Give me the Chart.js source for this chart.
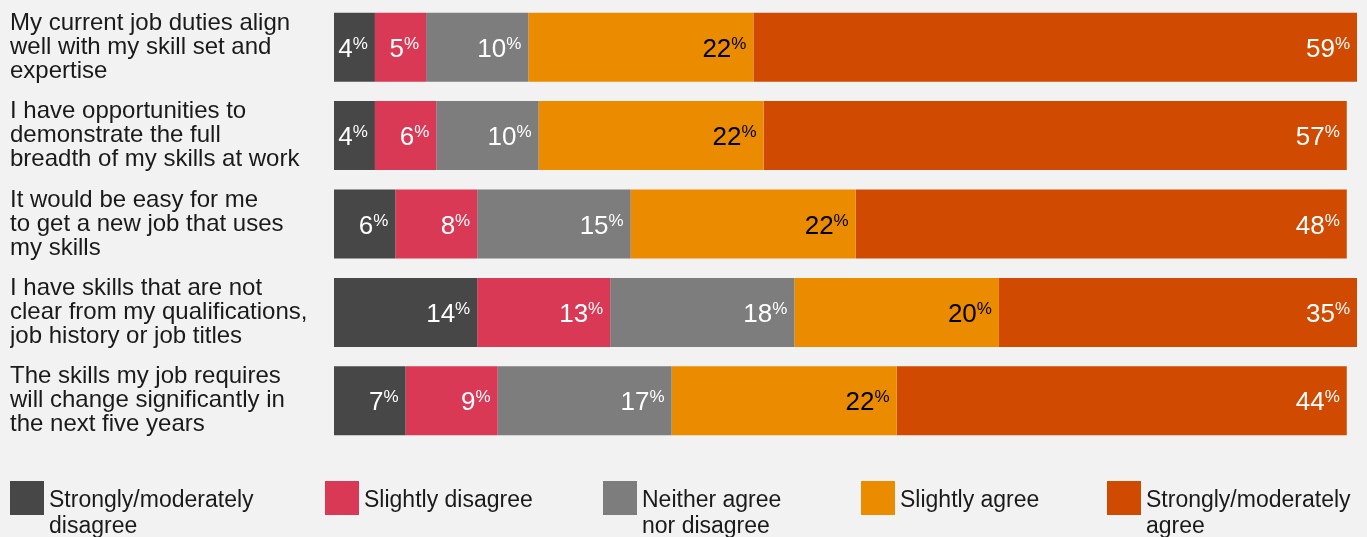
<!DOCTYPE html>
<html>
<head>
<meta charset="utf-8">
<script src="https://cdn.jsdelivr.net/npm/chart.js@4/dist/chart.umd.min.js"></script>
<style>
  html, body { margin: 0; padding: 0; background: #f2f2f2; }
  #wrap { position: relative; width: 1367px; height: 537px; }
</style>
</head>
<body>
<div id="wrap"><canvas id="skills"></canvas></div>
<script>
const statements = [
    ['My current job duties align', 'well with my skill set and', 'expertise'],
    ['I have opportunities to', 'demonstrate the full', 'breadth of my skills at work'],
    ['It would be easy for me', 'to get a new job that uses', 'my skills'],
    ['I have skills that are not', 'clear from my qualifications,', 'job history or job titles'],
    ['The skills my job requires', 'will change significantly in', 'the next five years']
];

const strongDisagree = [4, 4, 6, 14, 7];
const slightDisagree = [5, 6, 8, 13, 9];
const neitherNor = [10, 10, 15, 18, 17];
const slightAgree = [22, 22, 22, 20, 22];
const strongAgree = [59, 57, 48, 35, 44];

const COLORS = {
    darkGrey: '#474747',
    rose: '#d93954',
    grey: '#7d7d7d',
    orange: '#eb8c00',
    tangerine: '#d04a02',
    text: '#1a1a1a'
};

const FONT = '"Helvetica Neue", Helvetica, "Liberation Sans", Arial, sans-serif';

// value + small raised "%" drawn inside the right end of each segment
const segmentLabels = {
    id: 'segmentLabels',
    afterDatasetsDraw(chart) {
        const ctx = chart.ctx;
        ctx.save();
        chart.data.datasets.forEach((ds, di) => {
            const meta = chart.getDatasetMeta(di);
            meta.data.forEach((bar, i) => {
                const v = ds.data[i];
                ctx.fillStyle = ds.valueColor;
                ctx.textBaseline = 'alphabetic';
                ctx.textAlign = 'right';
                ctx.font = '17px ' + FONT;
                const pctW = ctx.measureText('%').width;
                const right = bar.x - 7;
                ctx.fillText('%', right, bar.y + 1.5);
                ctx.font = '26px ' + FONT;
                ctx.fillText(String(v), right - pctW, bar.y + 9.5);
            });
        });
        ctx.restore();
    }
};

// legend row under the bars, labels may wrap onto two lines
const boxLegend = {
    id: 'boxLegend',
    afterDraw(chart, args, opts) {
        const ctx = chart.ctx;
        ctx.save();
        ctx.font = '23px ' + FONT;
        ctx.textAlign = 'left';
        ctx.textBaseline = 'alphabetic';
        chart.data.datasets.forEach((ds, i) => {
            const x = opts.positions[i];
            ctx.fillStyle = ds.backgroundColor;
            ctx.fillRect(x, opts.top, 34, 34);
            ctx.fillStyle = COLORS.text;
            ds.label.forEach((line, li) => {
                ctx.fillText(line, x + 39, opts.top + 26 + li * 25.5);
            });
        });
        ctx.restore();
    }
};

new Chart(document.getElementById('skills'), {
    type: 'bar',
    data: {
        labels: statements,
        datasets: [
            { label: ['Strongly/moderately', 'disagree'], data: strongDisagree, backgroundColor: COLORS.darkGrey, valueColor: '#ffffff' },
            { label: ['Slightly disagree'], data: slightDisagree, backgroundColor: COLORS.rose, valueColor: '#ffffff' },
            { label: ['Neither agree', 'nor disagree'], data: neitherNor, backgroundColor: COLORS.grey, valueColor: '#ffffff' },
            { label: ['Slightly agree'], data: slightAgree, backgroundColor: COLORS.orange, valueColor: '#000000' },
            { label: ['Strongly/moderately', 'agree'], data: strongAgree, backgroundColor: COLORS.tangerine, valueColor: '#ffffff' }
        ]
    },
    options: {
        indexAxis: 'y',
        responsive: true,
        maintainAspectRatio: false,
        animation: false,
        datasets: {
            bar: {
                barPercentage: 1,
                categoryPercentage: 0.78,
                borderWidth: 0
            }
        },
        layout: {
            padding: { left: 10, right: 10, top: 3, bottom: 92 }
        },
        plugins: {
            legend: { display: false },
            tooltip: { enabled: false },
            boxLegend: {
                positions: [10, 325, 603, 861, 1107],
                top: 481
            }
        },
        scales: {
            x: {
                display: false,
                stacked: true,
                min: 0,
                max: 100
            },
            y: {
                stacked: true,
                grid: { display: false },
                border: { display: false },
                ticks: {
                    crossAlign: 'far',
                    color: COLORS.text,
                    font: { family: FONT, size: 24, lineHeight: '24px' }
                },
                afterFit(scale) {
                    // fixed label column; labels may overhang the plot area
                    scale.width = 324;
                    scale.paddingTop = 0;
                    scale.paddingBottom = 0;
                }
            }
        }
    },
    plugins: [segmentLabels, boxLegend]
});
</script>
</body>
</html>
